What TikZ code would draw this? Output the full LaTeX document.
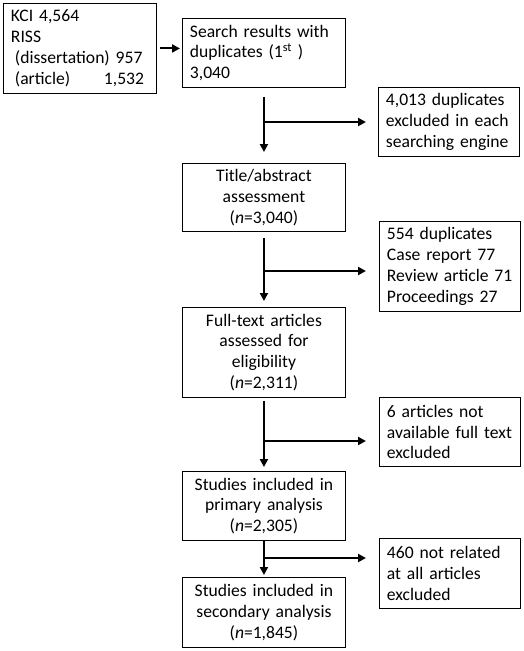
\documentclass[tikz,border=0pt]{standalone}
\usepackage{fontspec}
\setmainfont{Carlito}
\usetikzlibrary{positioning, calc, arrows.meta}
\tikzset{box/.style={draw, line width=0.9pt, anchor=north west, inner xsep=7.5pt, inner ysep=1pt, font=\fontsize{17.6}{20.8}\selectfont}}
\tikzset{lbox/.style={box, align=left}}
\tikzset{cbox/.style={box, align=center, text width=148pt}}
\tikzset{flow/.style={line width=2pt, -{Triangle[length=8pt,width=8pt]}}}

\begin{document}
\begin{tikzpicture}[x=1pt, y=-1pt]
      \useasboundingbox (0,0) rectangle (524,651);

      % sources and main column
      \node[lbox, text width=138pt, minimum height=90pt] (kci) at (3,3) {KCI 4,564\\RISS\\\hspace*{4pt}(dissertation) 957\\\hspace*{4pt}\makebox[89pt][l]{(article)}1,532};
      \node[lbox, text width=148pt, minimum height=69pt] (s0) at (182,18) {Search results with\\duplicates (1\textsuperscript{st} )\\3,040};
      \node[cbox, minimum height=68pt] (s1) at (182,163) {Title/abstract\\assessment\\(\textit{n}=3,040)};
      \node[cbox, minimum height=90pt] (s2) at (182,307) {Full-text articles\\assessed for\\eligibility\\(\textit{n}=2,311)};
      \node[cbox, minimum height=69pt] (s3) at (182,471) {Studies included in\\primary analysis\\(\textit{n}=2,305)};
      \node[cbox, minimum height=70pt] (s4) at (182,577) {Studies included in\\secondary analysis\\(\textit{n}=1,845)};

      % exclusions
      \node[lbox, text width=126pt, minimum height=69pt] (e0) at (378,87) {4,013 duplicates\\excluded in each\\searching engine};
      \node[lbox, text width=126pt, minimum height=90pt] (e1) at (379,221) {554 duplicates\\Case report 77\\Review article 71\\Proceedings 27};
      \node[lbox, text width=126pt, minimum height=69pt] (e2) at (379,397) {6 articles not\\available full text\\excluded};
      \node[lbox, text width=126pt, minimum height=70pt] (e3) at (379,538) {460 not related\\at all articles\\excluded};

      \coordinate (b0) at (264,122);
      \coordinate (b1) at (264,271);
      \coordinate (b2) at (264,441);
      \coordinate (b3) at (264,558);

      \draw[flow, shorten <=3pt, shorten >=2pt] (kci.east) -- (kci.east -| s0.west);
      \draw[flow, shorten <=9pt, shorten >=11pt] (s0.south) -- (s0.south |- s1.north);
      \draw[flow, shorten <=6pt, shorten >=6pt] (s1.south) -- (s1.south |- s2.north);
      \draw[flow, shorten <=3pt, shorten >=4pt] (s2.south) -- (s2.south |- s3.north);
      \draw[flow, shorten >=2pt] (s3.south) -- (s3.south |- s4.north);

      \draw[flow, shorten >=12pt] (b0) -- (b0 -| e0.west);
      \draw[flow, shorten >=13pt] (b1) -- (b1 -| e1.west);
      \draw[flow, shorten >=13pt] (b2) -- (b2 -| e2.west);
      \draw[flow, shorten >=13pt] (b3) -- (b3 -| e3.west);
    \end{tikzpicture}
\end{document}
